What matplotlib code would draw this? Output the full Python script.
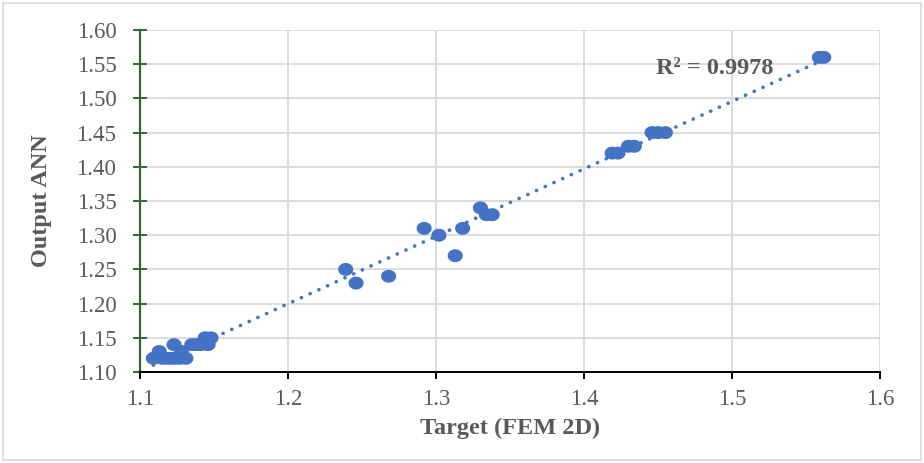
import numpy as np
import matplotlib
matplotlib.use("Agg")
import matplotlib.pyplot as plt
from matplotlib.patches import Rectangle
from matplotlib.path import Path

# Data (Target FEM 2D vs Output ANN)
target = [1.109, 1.113, 1.115, 1.118, 1.121, 1.123, 1.124, 1.127, 1.128, 1.131,
          1.135, 1.138, 1.141, 1.144, 1.146, 1.148,
          1.239, 1.246, 1.268, 1.292, 1.302, 1.313, 1.318, 1.330, 1.334, 1.338,
          1.419, 1.423, 1.430, 1.434, 1.446, 1.450, 1.455, 1.559, 1.562]
output = [1.12, 1.13, 1.12, 1.12, 1.12, 1.14, 1.12, 1.12, 1.13, 1.12,
          1.14, 1.14, 1.14, 1.15, 1.14, 1.15,
          1.25, 1.23, 1.24, 1.31, 1.30, 1.27, 1.31, 1.34, 1.33, 1.33,
          1.42, 1.42, 1.43, 1.43, 1.45, 1.45, 1.45, 1.56, 1.56]
x_ticks = [1.1, 1.2, 1.3, 1.4, 1.5, 1.6]
y_ticks = [1.10, 1.15, 1.20, 1.25, 1.30, 1.35, 1.40, 1.45, 1.50, 1.55, 1.60]
r2_label = "R² = 0.9978"

plt.rcParams['font.family'] = ['Liberation Serif', 'DejaVu Serif']

fig = plt.figure(figsize=(9.24, 4.63), dpi=100)
ax = fig.add_axes([140/924, 1 - 372/463, (880-140)/924, (372-30)/463])

blue = "#4472C4"
grey_text = "#595959"
grid_c = "#d9d9d9"

# slightly wide ellipse marker (as in the reference)
th = np.linspace(0, 2*np.pi, 61)
ell = Path(np.column_stack([1.17*np.cos(th), np.sin(th)]), closed=True)

x = np.array(target)
y = np.array(output)
coef = np.polyfit(x, y, 1)
xl = np.array([x.min(), x.max()])
ax.plot(xl, np.polyval(coef, xl), color=blue, lw=2.6, linestyle=(0, (0.05, 2.6)),
        dash_capstyle='round', zorder=2)
ax.scatter(x, y, s=118, marker=ell, color=blue, edgecolors='none', zorder=3)

ax.set_xlim(1.1, 1.6)
ax.set_ylim(1.10, 1.60)
ax.set_xticks(x_ticks)
ax.set_xticklabels([f"{v:.1f}" for v in x_ticks])
ax.set_yticks(y_ticks)
ax.set_yticklabels([f"{v:.2f}" for v in y_ticks])
ax.grid(True, color=grid_c, lw=1.3, zorder=0)
ax.set_axisbelow(True)

for s in ['top', 'right']:
    ax.spines[s].set_visible(False)
ax.spines['left'].set_color('#2e6b30')
ax.spines['left'].set_linewidth(1.6)
ax.spines['bottom'].set_color('black')
ax.spines['bottom'].set_linewidth(1.4)

ax.tick_params(axis='y', direction='inout', length=10, width=1.4, color='#2e6b30',
               labelsize=16.5, labelcolor=grey_text, pad=12)
ax.tick_params(axis='x', direction='out', length=5, width=1.4, color='black',
               labelsize=16.5, labelcolor=grey_text, pad=7)

ax.set_xlabel("Target (FEM 2D)", fontsize=17.5, fontweight='bold', color=grey_text, labelpad=6)
ax.set_ylabel("Output ANN", fontsize=17.5, fontweight='bold', color=grey_text, labelpad=18)

ax.text(1.4885, 1.5444, r2_label, fontsize=17.5, fontweight='bold', color=grey_text,
        ha='center', va='center', zorder=4)

fig.patches.append(Rectangle((3/924, 3/463), 918/924, 457/463, transform=fig.transFigure,
                             fill=False, edgecolor=grid_c, lw=1.2))

fig.savefig("out.png", dpi=100)
